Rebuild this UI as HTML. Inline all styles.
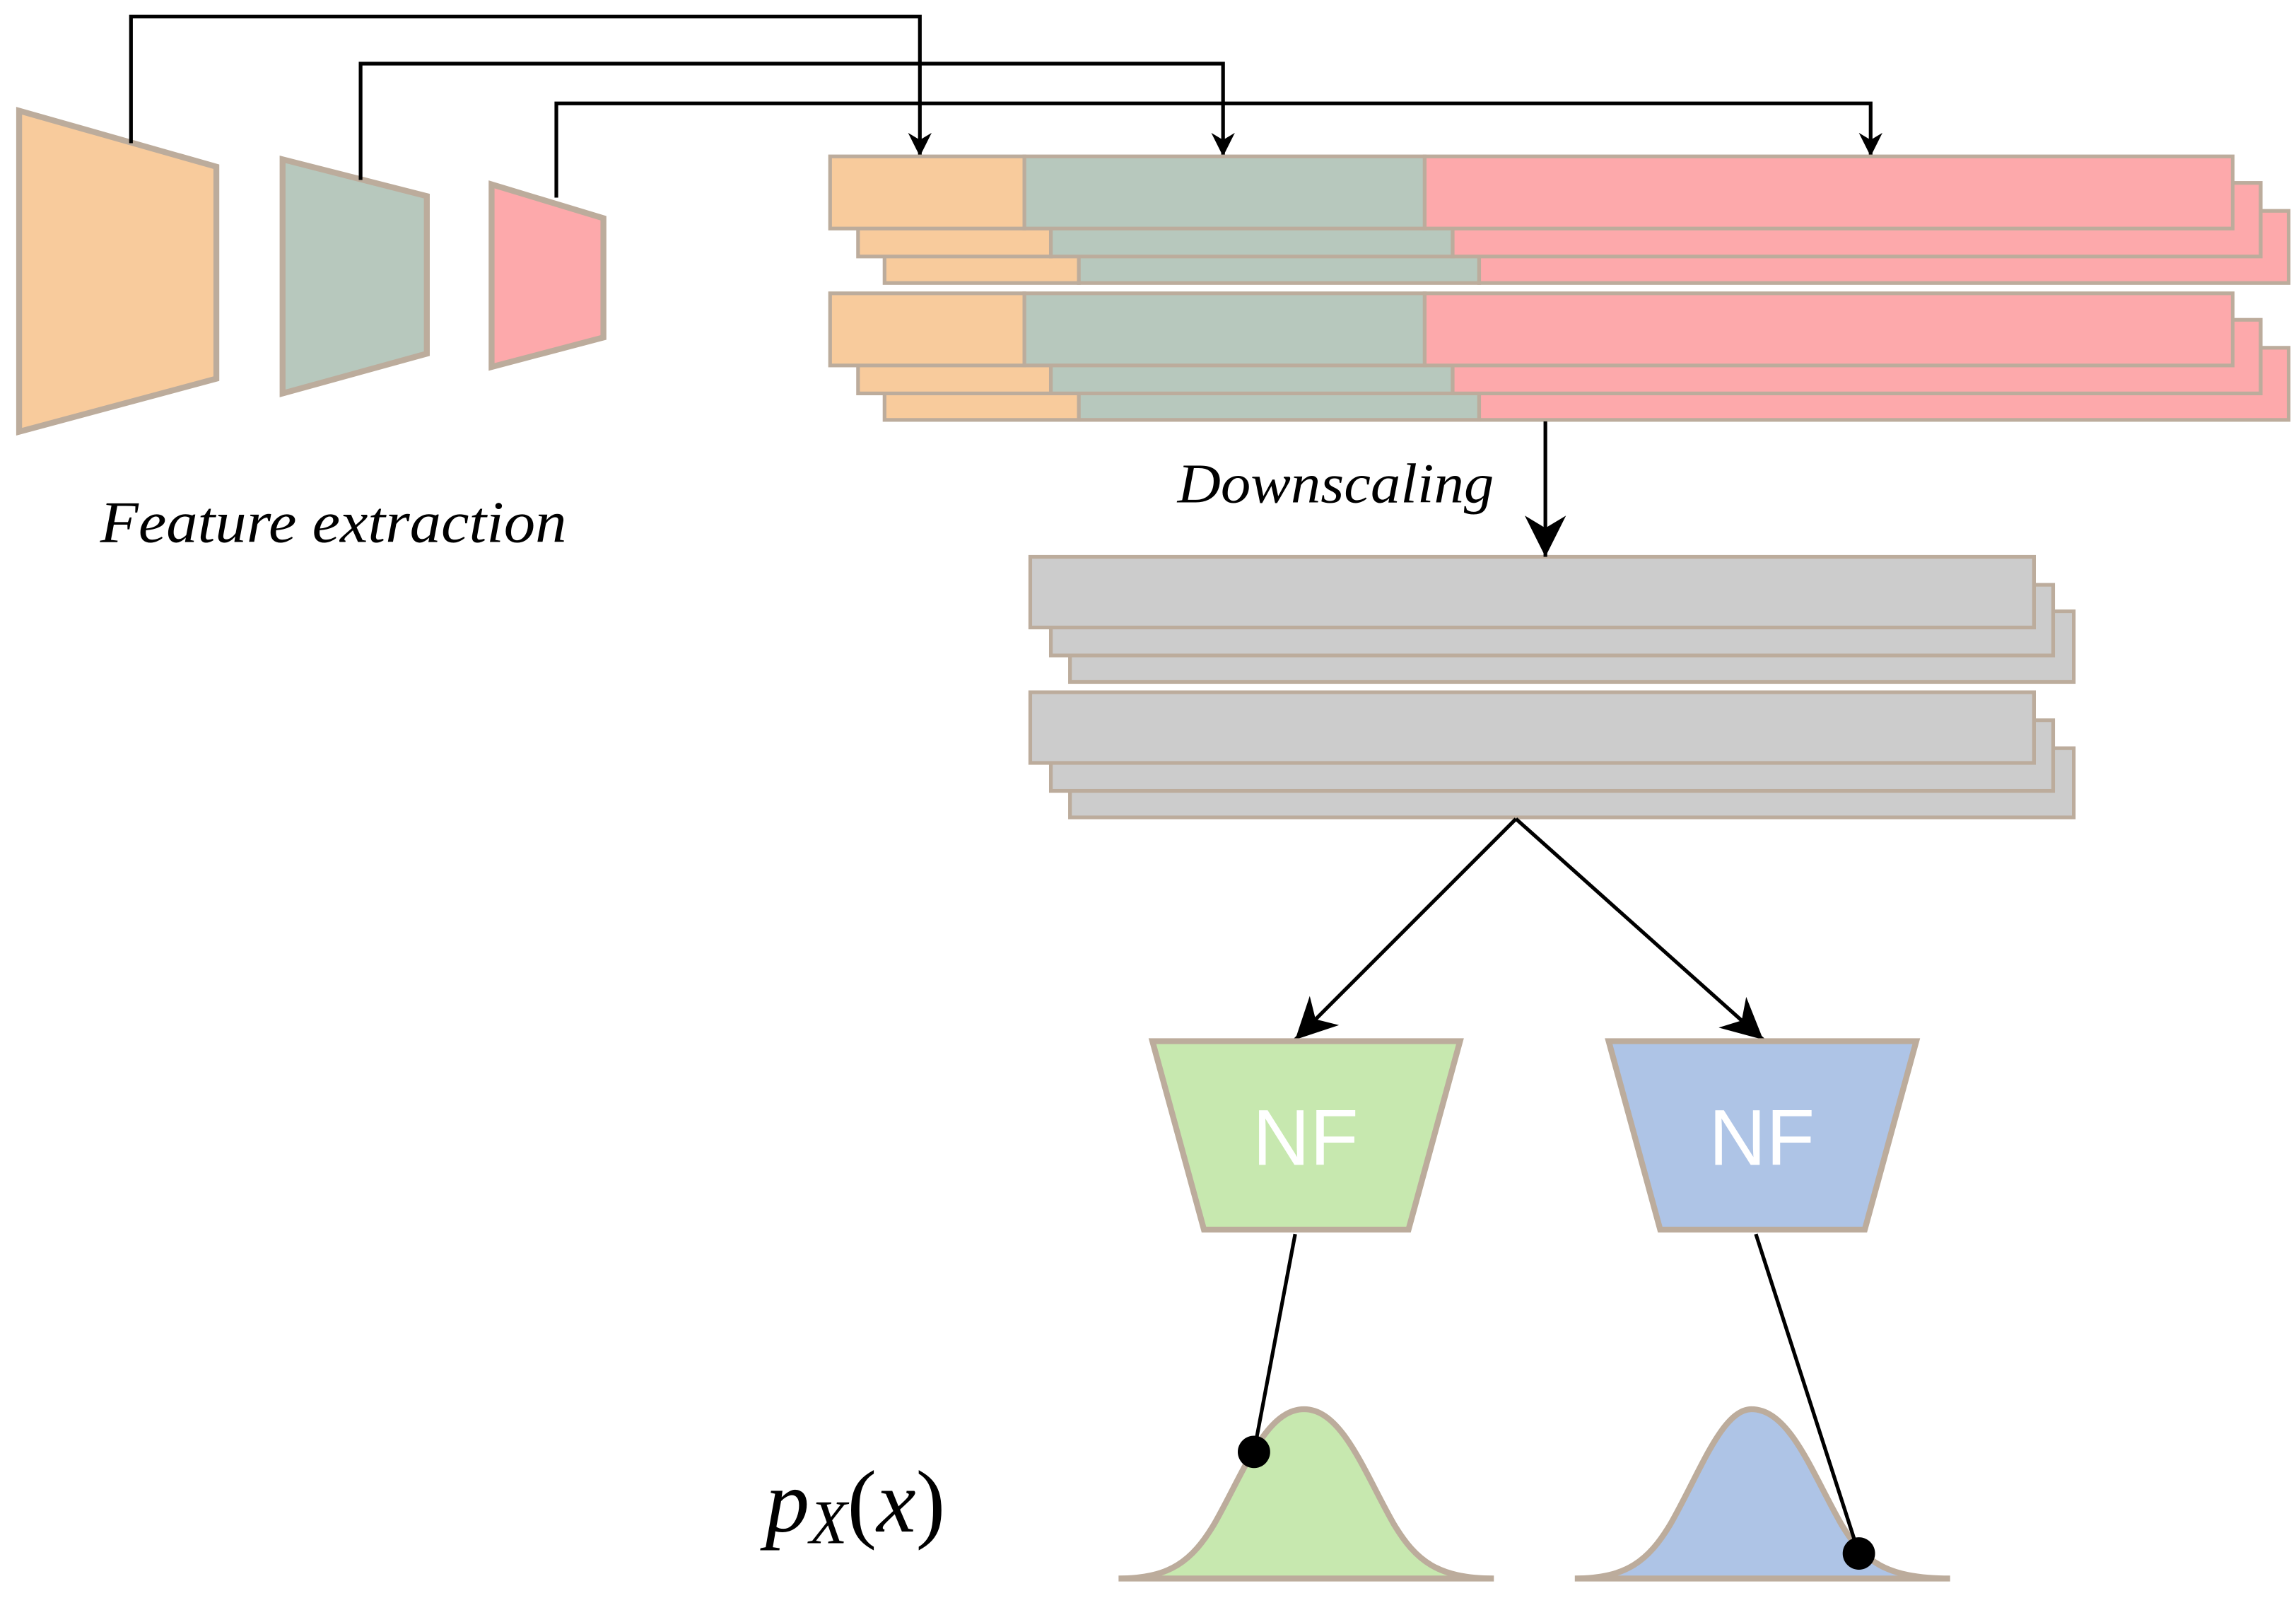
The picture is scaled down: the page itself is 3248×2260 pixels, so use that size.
<!DOCTYPE html>
<html><head><meta charset="utf-8"><style>
html,body{margin:0;padding:0;background:#fff;}
svg{display:block;}
</style></head><body>
<svg width="3248" height="2260" viewBox="0 0 1560 1085" xmlns="http://www.w3.org/2000/svg">
<defs>
<marker id="ah" viewBox="0 0 10 10" refX="10" refY="5" markerWidth="16" markerHeight="16" markerUnits="userSpaceOnUse" orient="auto">
<path d="M0,0 L10,5 L0,10 L3,5 z" fill="#000"/></marker>
<marker id="ahb" viewBox="0 0 10 10" refX="10" refY="5" markerWidth="28" markerHeight="28" markerUnits="userSpaceOnUse" orient="auto">
<path d="M0,0 L10,5 L0,10 L3,5 z" fill="#000"/></marker>
</defs>
<g stroke="#bcac9c" stroke-width="4" stroke-linejoin="miter">
<polygon points="13,75 147,113 147,257 13,293" fill="#f8cb9c"/>
<polygon points="192,108 290,133 290,240 192,267" fill="#b7c8bd"/>
<polygon points="334,125 410,148 410,229 334,249" fill="#fda9ab"/>
</g>
<g fill="none" stroke="#000" stroke-width="2.5">
<path d="M89,97 V11 H625 V106" marker-end="url(#ah)"/>
<path d="M245,122 V43 H831 V106" marker-end="url(#ah)"/>
<path d="M378,134 V70 H1271 V106" marker-end="url(#ah)"/>
</g>
<text x="68" y="368" font-family="Liberation Serif, serif" font-style="italic" font-size="40" textLength="317" lengthAdjust="spacingAndGlyphs">Feature extraction</text>
<g stroke="#bcac9c" stroke-width="2.5">
<g>
<rect x="601" y="143" width="132" height="49" fill="#f8cb9c"/><rect x="733" y="143" width="272" height="49" fill="#b7c8bd"/><rect x="1005" y="143" width="550" height="49" fill="#fda9ab"/>
<rect x="583" y="124" width="131" height="50" fill="#f8cb9c"/><rect x="714" y="124" width="273" height="50" fill="#b7c8bd"/><rect x="987" y="124" width="549" height="50" fill="#fda9ab"/>
<rect x="564" y="106" width="132" height="49" fill="#f8cb9c"/><rect x="696" y="106" width="272" height="49" fill="#b7c8bd"/><rect x="968" y="106" width="549" height="49" fill="#fda9ab"/>
</g>
<g transform="translate(0,93)">
<rect x="601" y="143" width="132" height="49" fill="#f8cb9c"/><rect x="733" y="143" width="272" height="49" fill="#b7c8bd"/><rect x="1005" y="143" width="550" height="49" fill="#fda9ab"/>
<rect x="583" y="124" width="131" height="50" fill="#f8cb9c"/><rect x="714" y="124" width="273" height="50" fill="#b7c8bd"/><rect x="987" y="124" width="549" height="50" fill="#fda9ab"/>
<rect x="564" y="106" width="132" height="49" fill="#f8cb9c"/><rect x="696" y="106" width="272" height="49" fill="#b7c8bd"/><rect x="968" y="106" width="549" height="49" fill="#fda9ab"/>
</g>
<g fill="#cccccc">
<rect x="727" y="415" width="682" height="48"/><rect x="714" y="397" width="681" height="48"/><rect x="700" y="378" width="682" height="48"/>
<rect x="727" y="508" width="682" height="47"/><rect x="714" y="489" width="681" height="48"/><rect x="700" y="470" width="682" height="48"/>
</g>
</g>
<path d="M1050,286 V378" stroke="#000" stroke-width="2.5" fill="none" marker-end="url(#ahb)"/>
<text x="800" y="341" font-family="Liberation Serif, serif" font-style="italic" font-size="38" textLength="215" lengthAdjust="spacingAndGlyphs">Downscaling</text>
<g stroke="#000" stroke-width="2.5" fill="none">
<path d="M1030,556 L880,706" marker-end="url(#ahb)"/>
<path d="M1030,556 L1198,706" marker-end="url(#ahb)"/>
</g>
<g stroke="#bcac9c" stroke-width="4">
<polygon points="783,707 992,707 957,835 818,835" fill="#c7e8af"/>
<polygon points="1093,707 1302,707 1267,835 1128,835" fill="#aec4e6"/>
<path d="M760,1072 C795,1072 810,1060 825,1035 C845,1000 860,957 886,957 C912,957 927,1000 947,1035 C962,1060 977,1072 1015,1072 Z" fill="#c7e8af"/>
<path d="M1070,1072 C1105,1072 1120,1060 1135,1035 C1155,1000 1170,957 1190,957 C1216,957 1231,1000 1251,1035 C1266,1060 1281,1072 1325,1072 Z" fill="#aec4e6"/>
</g>
<text x="887" y="791" text-anchor="middle" font-family="Liberation Sans, sans-serif" font-size="54" fill="#fff">NF</text>
<text x="1197" y="791" text-anchor="middle" font-family="Liberation Sans, sans-serif" font-size="54" fill="#fff">NF</text>
<g stroke="#000" stroke-width="2.5">
<line x1="880" y1="838" x2="852" y2="986"/>
<line x1="1193" y1="838" x2="1263" y2="1055"/>
</g>
<circle cx="852" cy="986" r="11" fill="#000"/>
<circle cx="1263" cy="1055" r="11" fill="#000"/>
<text x="520" y="1040" font-family="Liberation Serif, serif" font-style="italic" font-size="60">p<tspan font-size="42" dy="8">X</tspan><tspan dy="-8" font-style="normal">(</tspan>x<tspan font-style="normal">)</tspan></text>
</svg>
</body></html>
